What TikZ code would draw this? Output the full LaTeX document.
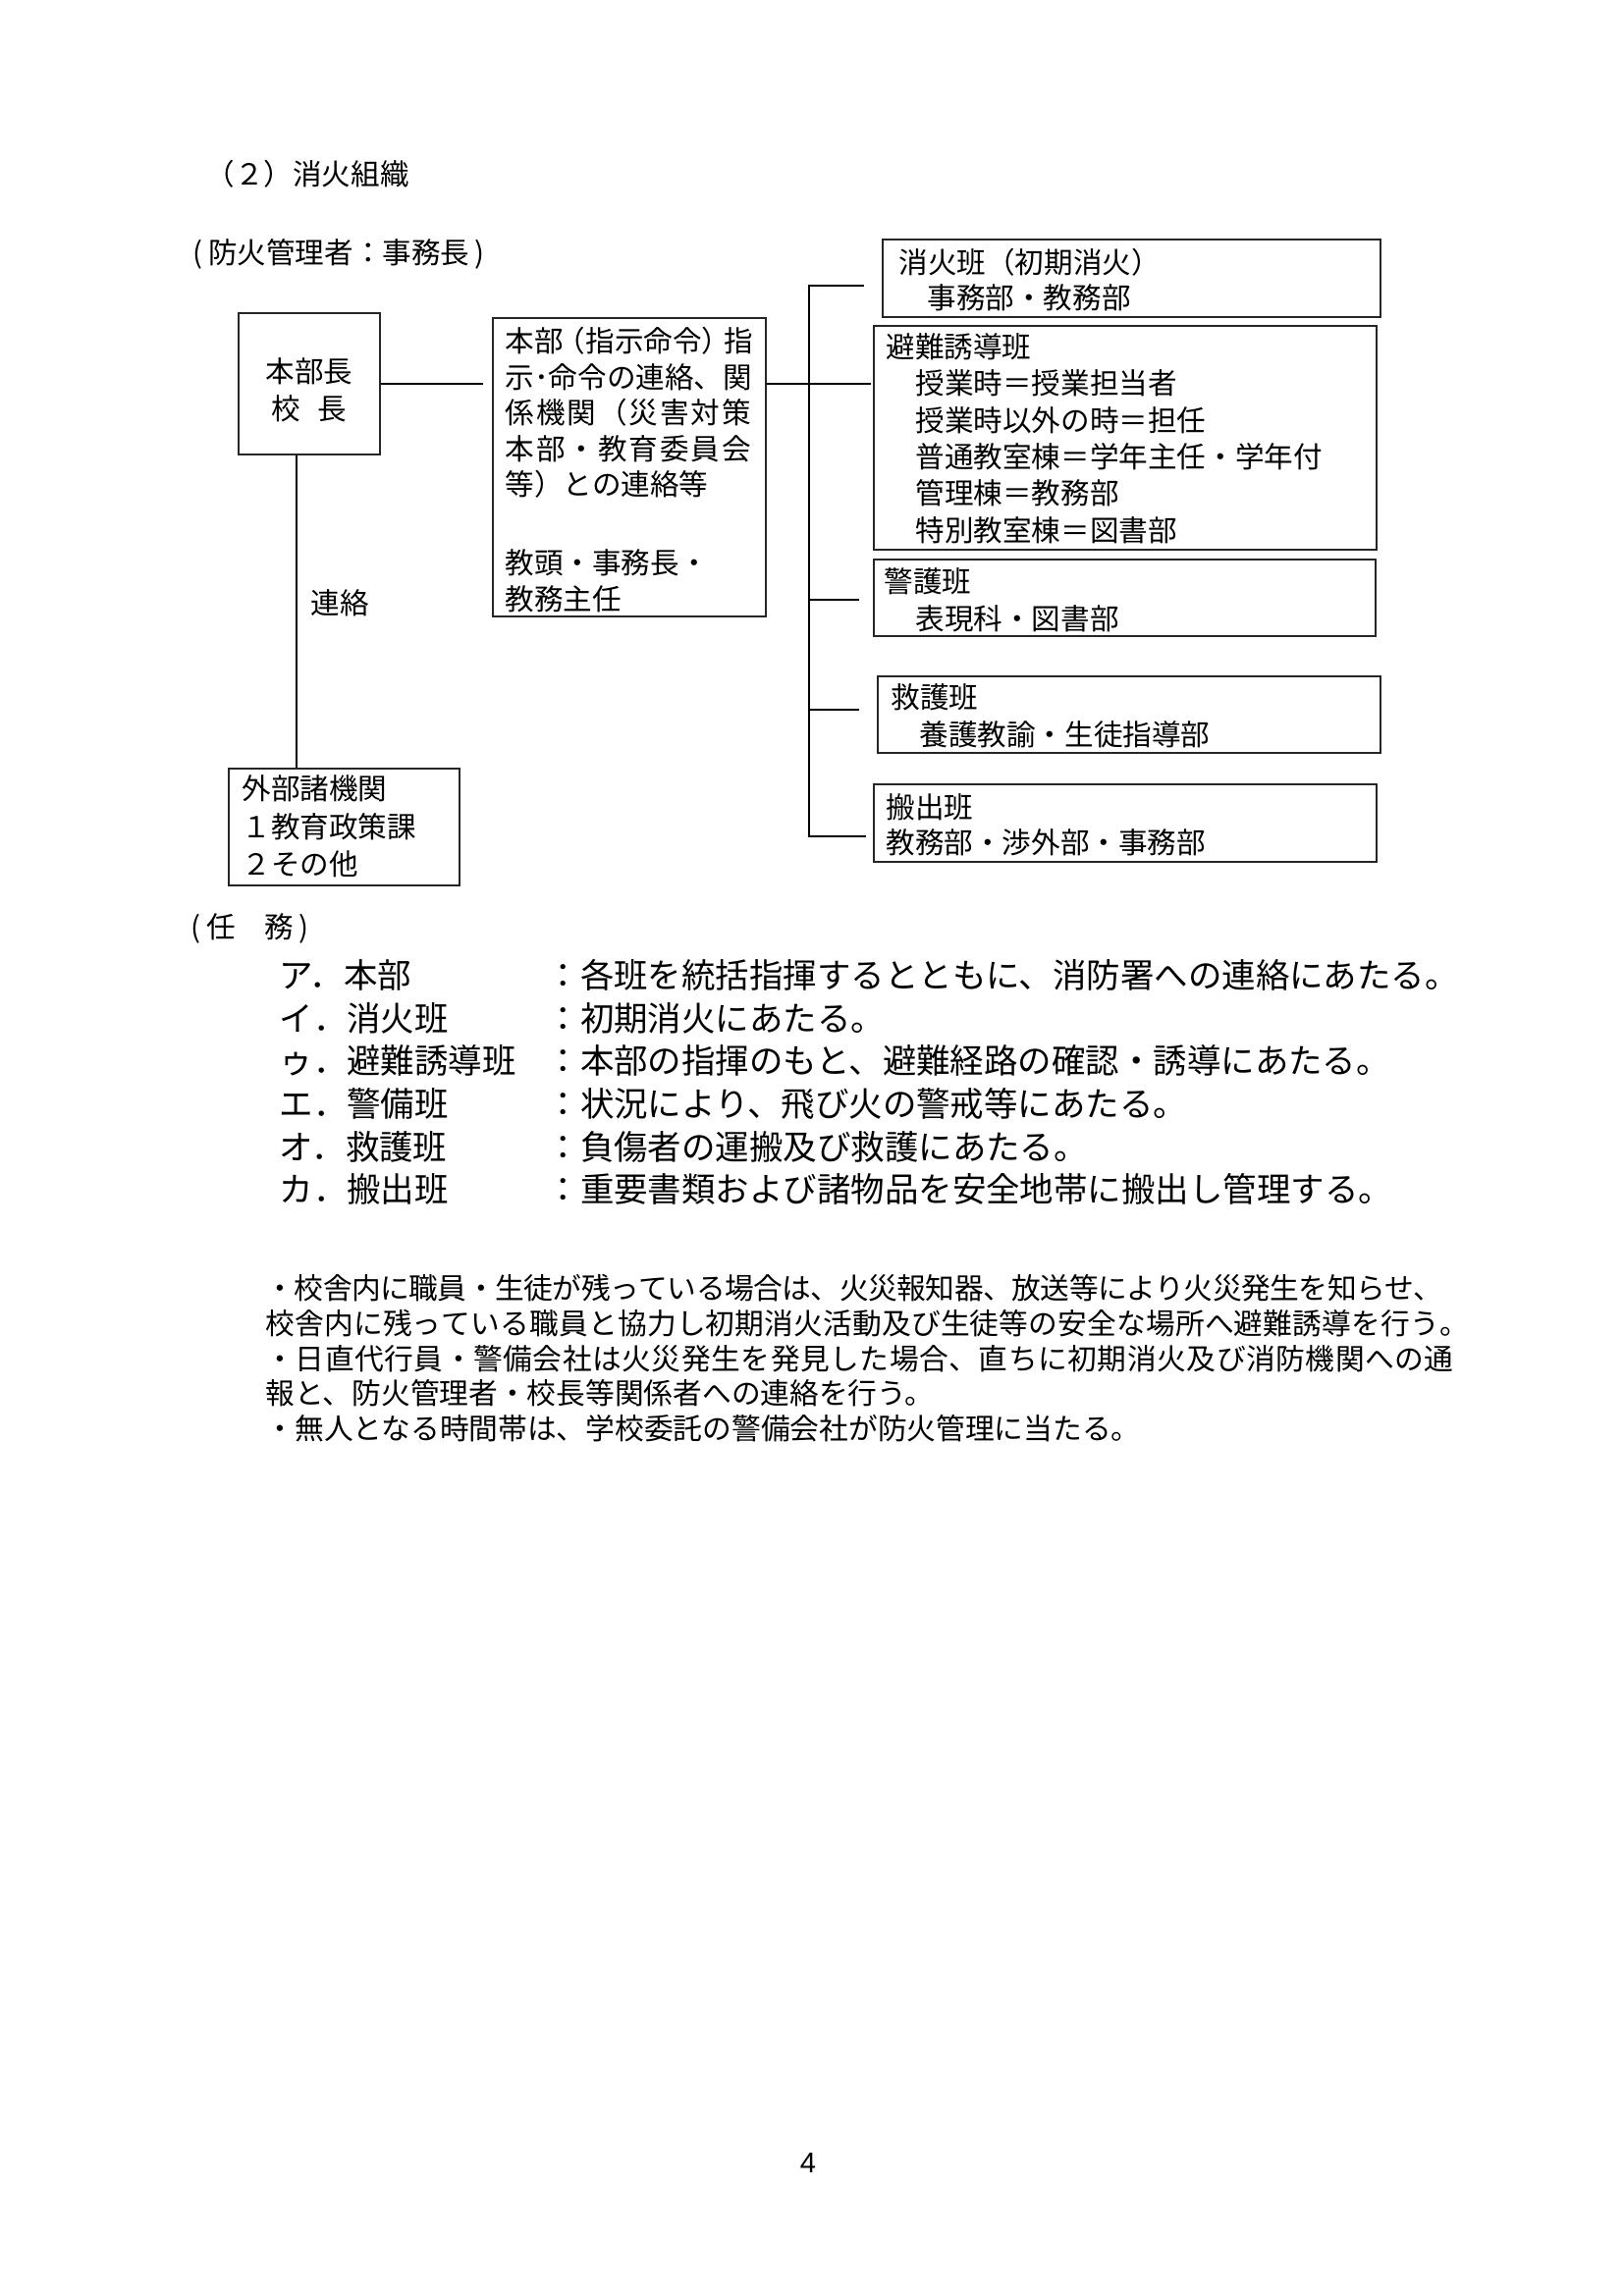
\documentclass[tikz,border=0pt]{standalone}
\usepackage{fontspec}
\newfontfamily\jp{Noto Sans CJK JP}
\newfontfamily\lsans{Liberation Sans}
\usetikzlibrary{calc,fit}
\makeatletter
\newcommand\spreadtext[2]{\makebox[#1][s]{\@tfor\spr@t:=#2\do{\spr@t\hss}\unskip}}
\makeatother
\begin{document}
\begin{tikzpicture}[x=0.3599pt,y=-0.3599pt,
  tA/.style={inner sep=0pt, anchor=west, font=\jp\fontsize{10.65}{12}\selectfont, text height=9.37pt, text depth=1.28pt},
  tC/.style={tA, anchor=center},
  tB/.style={inner sep=0pt, anchor=west, font=\jp\fontsize{12.4}{14}\selectfont, text height=10.9pt, text depth=1.5pt},
  tN/.style={inner sep=0pt, anchor=west, font=\jp\fontsize{10.7}{12}\selectfont, text height=9.42pt, text depth=1.28pt},
  box/.style={draw=black!85, line width=0.6pt, inner sep=0pt},
  con/.style={draw=black, line width=0.85pt}]
\fill[white] (0,0) rectangle (1654,2339);
\useasboundingbox (0,0) rectangle (1654,2339);

% headings
\node[tA] (title) at (209,177) {（２）消火組織};
\node[tA] (mgr) at (196,257) {(\kern2pt 防火管理者：事務長\kern2pt)};

% boxes
\node[box, fit={(243,319) (387,463)}] (honbu) {};
\node[box, fit={(502,324) (780,628)}] (mid) {};
\node[box, fit={(899,244) (1406,323)}] (b1) {};
\node[box, fit={(890,332) (1402,560)}] (b2) {};
\node[box, fit={(890,570) (1401,648)}] (b3) {};
\node[box, fit={(894,689) (1406,767)}] (b4) {};
\node[box, fit={(890,799) (1402,878)}] (b5) {};
\node[box, fit={(233,783) (468,902)}] (gaibu) {};

% connectors
\coordinate (vx) at (302,0);
\coordinate (midin) at ($(mid.west)+(-9,0)$);
\coordinate (t1) at (824,291);
\coordinate (t3) at (824,611);
\coordinate (t4) at (824,723);
\coordinate (t5) at (824,852);
\coordinate (e1) at (880,291);
\coordinate (e2) at (887,391);
\coordinate (e3) at (875,611);
\coordinate (e4) at (875,723);
\coordinate (e5) at (882,852);
\draw[con] (honbu.south -| vx) -- (gaibu.north -| vx);
\draw[con] (honbu.east) -- (midin |- honbu.east);
\draw[con] (mid.east |- e2) -- (e2);
\draw[con] (e1) -- (t1) -- (t5) -- (e5);
\draw[con] (t3) -- (e3);
\draw[con] (t4) -- (e4);

% box texts
\node[tC] (hb1) at (315,378) {本部長};
\node[tC] (hb2) at (315,416) {校\hspace{6.3pt}長};

\node[tA] (m1) at (514,347) {本部\kern-2.5pt（指示命令）\kern-2.5pt指};
\node[tA] (m2) at (514,384) {示･命令の連絡、関};
\node[tA] (m3) at (514,420) {\spreadtext{90pt}{係機関（災害対策}};
\node[tA] (m4) at (514,457) {\spreadtext{90pt}{本部・教育委員会}};
\node[tA] (m5) at (514,493) {等）との連絡等};
\node[tA] (m6) at (514,573) {教頭・事務長・};
\node[tA] (m7) at (514,610) {教務主任};

\node[tA] (b1a) at (915,267) {消火班（初期消火）};
\node[tA] (b1b) at (944,303) {事務部・教務部};

\node[tA] (b2a) at (902,353) {避難誘導班};
\node[tA] (b2b) at (932,390.4) {授業時＝授業担当者};
\node[tA] (b2c) at (932,427.8) {授業時以外の時＝担任};
\node[tA] (b2d) at (932,465.2) {普通教室棟＝学年主任・学年付};
\node[tA] (b2e) at (932,502.6) {管理棟＝教務部};
\node[tA] (b2f) at (932,540) {特別教室棟＝図書部};

\node[tA] (b3a) at (900,592) {警護班};
\node[tA] (b3b) at (932,630) {表現科・図書部};

\node[tA] (b4a) at (907,710) {救護班};
\node[tA] (b4b) at (936,748) {養護教諭・生徒指導部};

\node[tA] (b5a) at (902,822) {搬出班};
\node[tA] (b5b) at (902,858) {教務部・渉外部・事務部};

\node[tA] (g1) at (246,803) {外部諸機関};
\node[tA] (g2) at (246,842) {１教育政策課};
\node[tA] (g3) at (246,880) {２その他};

\node[tA] (renraku) at (316,614) {連絡};

% duties
\node[tA] (ninmu) at (194,944) {(\kern2pt 任　務\kern2pt)};
\node[tB] (d1) at (284,993) {ア．本部};
\node[tB] (d2) at (284,1037) {イ．消火班};
\node[tB] (d3) at (284,1080) {ゥ．避難誘導班};
\node[tB] (d4) at (284,1124) {エ．警備班};
\node[tB] (d5) at (284,1168) {オ．救護班};
\node[tB] (d6) at (284,1211) {カ．搬出班};
\node[tB] (r1) at (556,993) {：各班を統括指揮するとともに、消防署への連絡にあたる。};
\node[tB] (r2) at (556,1037) {：初期消火にあたる。};
\node[tB] (r3) at (556,1080) {：本部の指揮のもと、避難経路の確認・誘導にあたる。};
\node[tB] (r4) at (556,1124) {：状況により、飛び火の警戒等にあたる。};
\node[tB] (r5) at (556,1168) {：負傷者の運搬及び救護にあたる。};
\node[tB] (r6) at (556,1211) {：重要書類および諸物品を安全地帯に搬出し管理する。};

% notes
\node[tN] (n1) at (270,1312) {\spreadtext{431.5pt}{・校舎内に職員・生徒が残っている場合は、火災報知器、放送等により火災発生を知らせ、}};
\node[tN] (n2) at (270,1348) {\spreadtext{441pt}{校舎内に残っている職員と協力し初期消火活動及び生徒等の安全な場所へ避難誘導を行う。}};
\node[tN] (n3) at (270,1384) {\spreadtext{435.5pt}{・日直代行員・警備会社は火災発生を発見した場合、直ちに初期消火及び消防機関への通}};
\node[tN] (n4) at (270,1419) {報と、防火管理者・校長等関係者への連絡を行う。};
\node[tN] (n5) at (270,1455) {・無人となる時間帯は、学校委託の警備会社が防火管理に当たる。};

% page number
\node[inner sep=0pt, font=\lsans\fontsize{10.5}{12}\selectfont] (pg) at (823,2203) {4};
\end{tikzpicture}
\end{document}
